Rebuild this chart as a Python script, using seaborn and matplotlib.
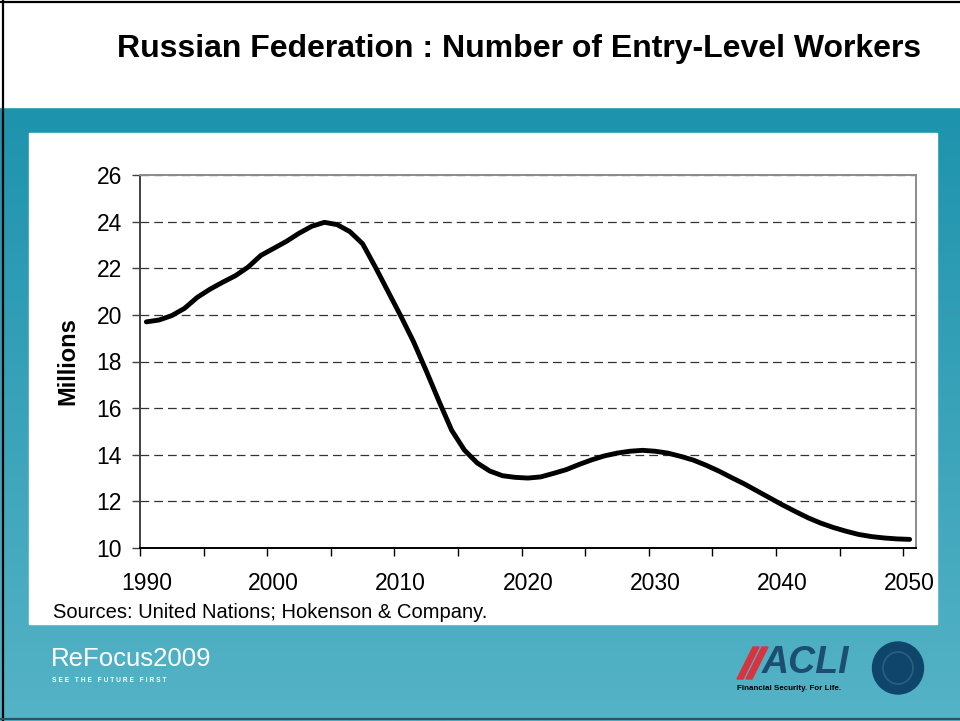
"""
plot.py — Russian Federation entry-level workers, 1990-2050 (slide recreation).

Output:
  • out.png  (960 x 721 px)
"""
import numpy as np
import pandas as pd
import matplotlib
matplotlib.use("Agg")   # headless
import matplotlib.pyplot as plt
from matplotlib.patches import Rectangle, Ellipse, Polygon
from matplotlib.lines import Line2D
import seaborn as sns


# ─── Data ────────────────────────────────────────────────────────────────────

years = list(range(1990, 2051))
workers_millions = [
    19.70, 19.78, 19.97, 20.28, 20.75, 21.10, 21.40, 21.68, 22.05, 22.55,  # 1990s
    22.85, 23.15, 23.50, 23.80, 23.97, 23.87, 23.57, 23.05, 22.05, 21.00,  # 2000s
    19.95, 18.85, 17.60, 16.30, 15.05, 14.20, 13.65, 13.30, 13.10, 13.03,  # 2010s
    13.00, 13.05, 13.20, 13.36, 13.58, 13.78, 13.95, 14.07, 14.15, 14.19,  # 2020s
    14.15, 14.07, 13.93, 13.77, 13.55, 13.30, 13.02, 12.75, 12.45, 12.15,  # 2030s
    11.85, 11.57, 11.30, 11.07, 10.88, 10.72, 10.58, 10.49, 10.43, 10.39,  # 2040s
    10.37,                                                                 # 2050
]
y_ticks = [10, 12, 14, 16, 18, 20, 22, 24, 26]
x_labels = [1990, 2000, 2010, 2020, 2030, 2040, 2050]

title = "Russian Federation : Number of Entry-Level Workers"
y_label = "Millions"
source_note = "Sources: United Nations; Hokenson & Company."

df = pd.DataFrame({"year": years, "workers": workers_millions})


# ─── Style ───────────────────────────────────────────────────────────────────

sns.set_theme(style="white")
plt.rcParams["font.family"] = ["Liberation Sans", "DejaVu Sans"]
plt.rcParams.update({
    "text.color": "black",
    "axes.labelcolor": "black",
    "xtick.color": "black",
    "ytick.color": "black",
})

W, H = 960, 721
TEAL_TOP = np.array([0x1E, 0x93, 0xAD]) / 255
TEAL_BOT = np.array([0x55, 0xB3, 0xC6]) / 255


def fx(px):
    return px / W


def fy(py):
    return 1 - py / H


fig = plt.figure(figsize=(W / 100, H / 100), dpi=100)

# background: teal gradient, white header band and white chart panel
bg = fig.add_axes([0, 0, 1, 1], zorder=0)
grad = np.linspace(0, 1, 256)[:, None, None]
grad = TEAL_TOP * (1 - grad) + TEAL_BOT * grad
bg.imshow(grad, extent=[0, 1, 0, fy(107)], aspect="auto", origin="upper")
bg.add_patch(Rectangle((0, fy(107)), 1, 1 - fy(107), color="white"))
bg.add_patch(Rectangle((fx(29), fy(624)), fx(937) - fx(29), fy(133) - fy(624),
                       color="white"))
bg.set_xlim(0, 1)
bg.set_ylim(0, 1)
bg.axis("off")

# slide frame
fig.add_artist(Line2D([fx(2.5), fx(2.5)], [0, 1], color="black", lw=1.6))
fig.add_artist(Line2D([0, 1], [fy(1.5), fy(1.5)], color="black", lw=1.6))
fig.add_artist(Line2D([0, 1], [fy(718.5), fy(718.5)], color="#2B5560", lw=1.6))


# ─── Chart ───────────────────────────────────────────────────────────────────

ax = fig.add_axes([fx(140), fy(548), fx(916) - fx(140), fy(175) - fy(548)], zorder=2)
ax.set_facecolor("white")

sns.lineplot(data=df, x="year", y="workers", ax=ax, color="black",
             linewidth=3.5, solid_capstyle="round", solid_joinstyle="round")

ax.set_xlim(years[0] - 0.5, years[-1] + 0.5)
ax.set_ylim(y_ticks[0], y_ticks[-1])

ax.set_yticks(y_ticks)
ax.yaxis.grid(True, color="#333333", linewidth=0.9, linestyle=(0, (7, 4)))
ax.set_axisbelow(True)

# category-style x axis: tick marks between 5-year groups, labels every decade
ax.set_xticks(x_labels)
ax.set_xticks(np.arange(years[0] - 0.5, years[-1] + 1, 5), minor=True)
ax.tick_params(axis="x", which="major", length=0, pad=17.5, labelsize=16.5)
ax.tick_params(axis="x", which="minor", length=6, width=1, direction="out",
               color="black", bottom=True)
ax.tick_params(axis="y", length=6, width=1, direction="out", color="#404040",
               left=True, pad=7, labelsize=16.5)

for side, col in [("left", "#404040"), ("bottom", "black"),
                  ("top", "#8C8C8C"), ("right", "#8C8C8C")]:
    ax.spines[side].set_visible(True)
    ax.spines[side].set_color(col)
    ax.spines[side].set_linewidth(1.4)

ax.set_xlabel("")
ax.set_ylabel(y_label, fontsize=17, fontweight="bold", labelpad=12)


# ─── Slide texts and logos ───────────────────────────────────────────────────

fig.text(fx(519), fy(49), title, ha="center", va="center",
         fontsize=23, fontweight="bold")
fig.text(fx(53), fy(612), source_note, ha="left", va="center",
         fontsize=14.5, zorder=3)

fig.text(fx(51), fy(659), "ReFocus2009", ha="left", va="center",
         fontsize=18.5, color="white", zorder=3)
fig.text(fx(52), fy(680), "S E E   T H E   F U T U R E   F I R S T", ha="left",
         va="center", fontsize=4.8, fontweight="bold", color="white", zorder=3)

for off in (0, 9):
    fig.add_artist(Polygon(
        [(fx(737 + off), fy(679)), (fx(743 + off), fy(679)),
         (fx(759 + off), fy(647)), (fx(753 + off), fy(647))],
        closed=True, color="#D8343F", zorder=3))
fig.text(fx(762), fy(663), "ACLI", ha="left", va="center", fontsize=27,
         fontweight="bold", style="italic", color="#1C4E72", zorder=3)
fig.text(fx(737), fy(688), "Financial Security. For Life.", ha="left",
         va="center", fontsize=5.8, fontweight="bold", zorder=3)
fig.add_artist(Ellipse((fx(898), fy(668)), fx(51), 52 / H,
                       color="#0F456A", zorder=3))
fig.add_artist(Ellipse((fx(898), fy(668)), fx(30), 32 / H, fill=False,
                       edgecolor="#2A5F82", lw=1.2, zorder=4))

fig.savefig("out.png", dpi=100)
plt.close(fig)
